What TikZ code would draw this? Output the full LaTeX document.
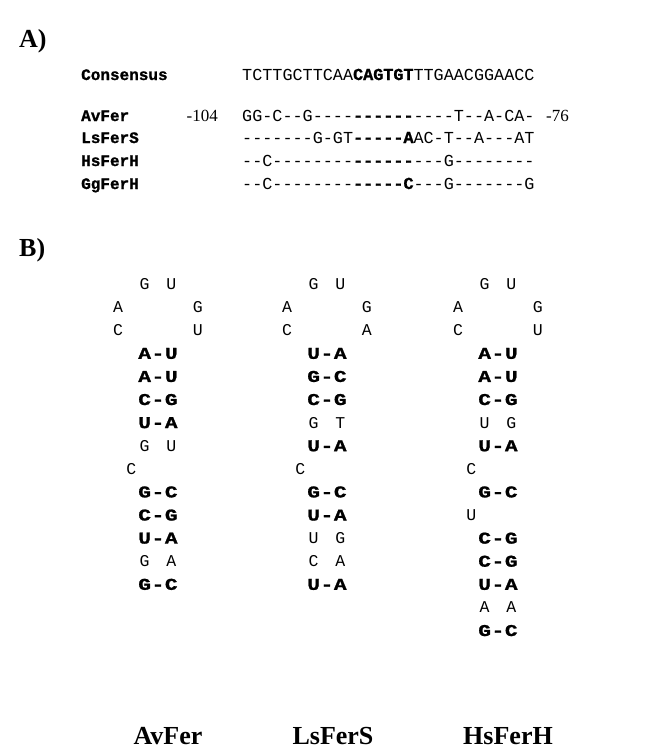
\documentclass[tikz,border=0pt]{standalone}
\usepackage{fontspec}
\setmainfont{Liberation Serif}
\setmonofont{Liberation Mono}[BoldFeatures={FakeBold=1.2}]
% wide heavy face for the paired bases
\newfontfamily\pairfont{Liberation Mono}[FakeStretch=1.28, BoldFeatures={FakeBold=1.2}]
% hairpin grid: column width and row pitch
\newcommand\hw{13.3}
\newcommand\hr{23.1}
% one nucleotide at column #2, row #3
\newcommand\nuc[4]{\node[hp] (#1) at ({(#2+0.5)*\hw},{#3*\hr}) {#4};}
% Watson-Crick pair in bold: X-Y
\newcommand\pairB[4]{%
  \node[hpb] (#1-a) at ({0.5*\hw},{#2*\hr}) {#3};
  \node[hpb] (#1-d) at ({1.5*\hw},{#2*\hr}) {-};
  \node[hpb] (#1-b) at ({2.5*\hw},{#2*\hr}) {#4};}
% unpaired opposite bases
\newcommand\pairN[4]{%
  \node[hp] (#1-a) at ({0.5*\hw},{#2*\hr}) {#3};
  \node[hp] (#1-b) at ({2.5*\hw},{#2*\hr}) {#4};}
\begin{document}
\begin{tikzpicture}[x=1pt,y=-1pt,
  seqtext/.style={font=\ttfamily\fontsize{16.8}{18}\selectfont, inner sep=0pt, anchor=base west},
  seqlabel/.style={font=\ttfamily\bfseries\fontsize{16}{18}\selectfont, inner sep=0pt, anchor=base west},
  posnum/.style={font=\fontsize{17}{19}\selectfont, inner sep=0pt},
  panel/.style={font=\bfseries\fontsize{26}{28}\selectfont, inner sep=0pt, anchor=base west},
  hp/.style={font=\ttfamily\fontsize{16.5}{18}\selectfont, inner sep=0pt, anchor=base},
  hpb/.style={font=\pairfont\bfseries\fontsize{16.5}{18}\selectfont, inner sep=0pt, anchor=base},
  stemtitle/.style={font=\bfseries\fontsize{26}{28}\selectfont, inner sep=0pt, anchor=base}]
\path[use as bounding box] (0,0) rectangle (664,753);

% ---------- panel A: alignment ----------
\node[panel] (pA) at (19,47) {A)};
\node[seqlabel] (lcons) at (81,80) {Consensus};
\node[seqtext] (scons) at (242,80) {TCTTGCTTCAA\textbf{CAGTGT}TTGAACGGAACC};

\node[seqlabel] (lav) at (81,121) {AvFer};
\node[posnum, anchor=base east] (n104) at (218,121) {-104};
\node[seqtext] (sav) at (242,121) {GG-C--G----\textbf{------}----T--A-CA-};
\node[posnum, anchor=base west] (n76) at (546,121) {-76};

\node[seqlabel] (lls) at (81,143) {LsFerS};
\node[seqtext] (sls) at (242,143) {-------G-GT\textbf{-----A}AC-T--A---AT};

\node[seqlabel] (lhs) at (81,166) {HsFerH};
\node[seqtext] (shs) at (242,166) {--C--------\textbf{------}---G--------};

\node[seqlabel] (lgg) at (81,189) {GgFerH};
\node[seqtext] (sgg) at (242,189) {--C--------\textbf{-----C}---G-------G};

% ---------- panel B: stem-loops ----------
\node[panel] (pB) at (19,256) {B)};

% AvFer
\begin{scope}[shift={(138,289.5)}]
  \nuc{av0a}{0}{0}{G} \nuc{av0b}{2}{0}{U}
  \nuc{av1a}{-2}{1}{A} \nuc{av1b}{4}{1}{G}
  \nuc{av2a}{-2}{2}{C} \nuc{av2b}{4}{2}{U}
  \pairB{av3}{3}{A}{U}
  \pairB{av4}{4}{A}{U}
  \pairB{av5}{5}{C}{G}
  \pairB{av6}{6}{U}{A}
  \pairN{av7}{7}{G}{U}
  \nuc{av8}{-1}{8}{C}
  \pairB{av9}{9}{G}{C}
  \pairB{av10}{10}{C}{G}
  \pairB{av11}{11}{U}{A}
  \pairN{av12}{12}{G}{A}
  \pairB{av13}{13}{G}{C}
\end{scope}

% LsFerS
\begin{scope}[shift={(307,289.5)}]
  \nuc{ls0a}{0}{0}{G} \nuc{ls0b}{2}{0}{U}
  \nuc{ls1a}{-2}{1}{A} \nuc{ls1b}{4}{1}{G}
  \nuc{ls2a}{-2}{2}{C} \nuc{ls2b}{4}{2}{A}
  \pairB{ls3}{3}{U}{A}
  \pairB{ls4}{4}{G}{C}
  \pairB{ls5}{5}{C}{G}
  \pairN{ls6}{6}{G}{T}
  \pairB{ls7}{7}{U}{A}
  \nuc{ls8}{-1}{8}{C}
  \pairB{ls9}{9}{G}{C}
  \pairB{ls10}{10}{U}{A}
  \pairN{ls11}{11}{U}{G}
  \pairN{ls12}{12}{C}{A}
  \pairB{ls13}{13}{U}{A}
\end{scope}

% HsFerH
\begin{scope}[shift={(478,289.5)}]
  \nuc{hs0a}{0}{0}{G} \nuc{hs0b}{2}{0}{U}
  \nuc{hs1a}{-2}{1}{A} \nuc{hs1b}{4}{1}{G}
  \nuc{hs2a}{-2}{2}{C} \nuc{hs2b}{4}{2}{U}
  \pairB{hs3}{3}{A}{U}
  \pairB{hs4}{4}{A}{U}
  \pairB{hs5}{5}{C}{G}
  \pairN{hs6}{6}{U}{G}
  \pairB{hs7}{7}{U}{A}
  \nuc{hs8}{-1}{8}{C}
  \pairB{hs9}{9}{G}{C}
  \nuc{hs10}{-1}{10}{U}
  \pairB{hs11}{11}{C}{G}
  \pairB{hs12}{12}{C}{G}
  \pairB{hs13}{13}{U}{A}
  \pairN{hs14}{14}{A}{A}
  \pairB{hs15}{15}{G}{C}
\end{scope}

\node[stemtitle] (nav) at (168,744) {AvFer};
\node[stemtitle] (nls) at (333,744) {LsFerS};
\node[stemtitle] (nhs) at (508,744) {HsFerH};
\end{tikzpicture}
\end{document}
